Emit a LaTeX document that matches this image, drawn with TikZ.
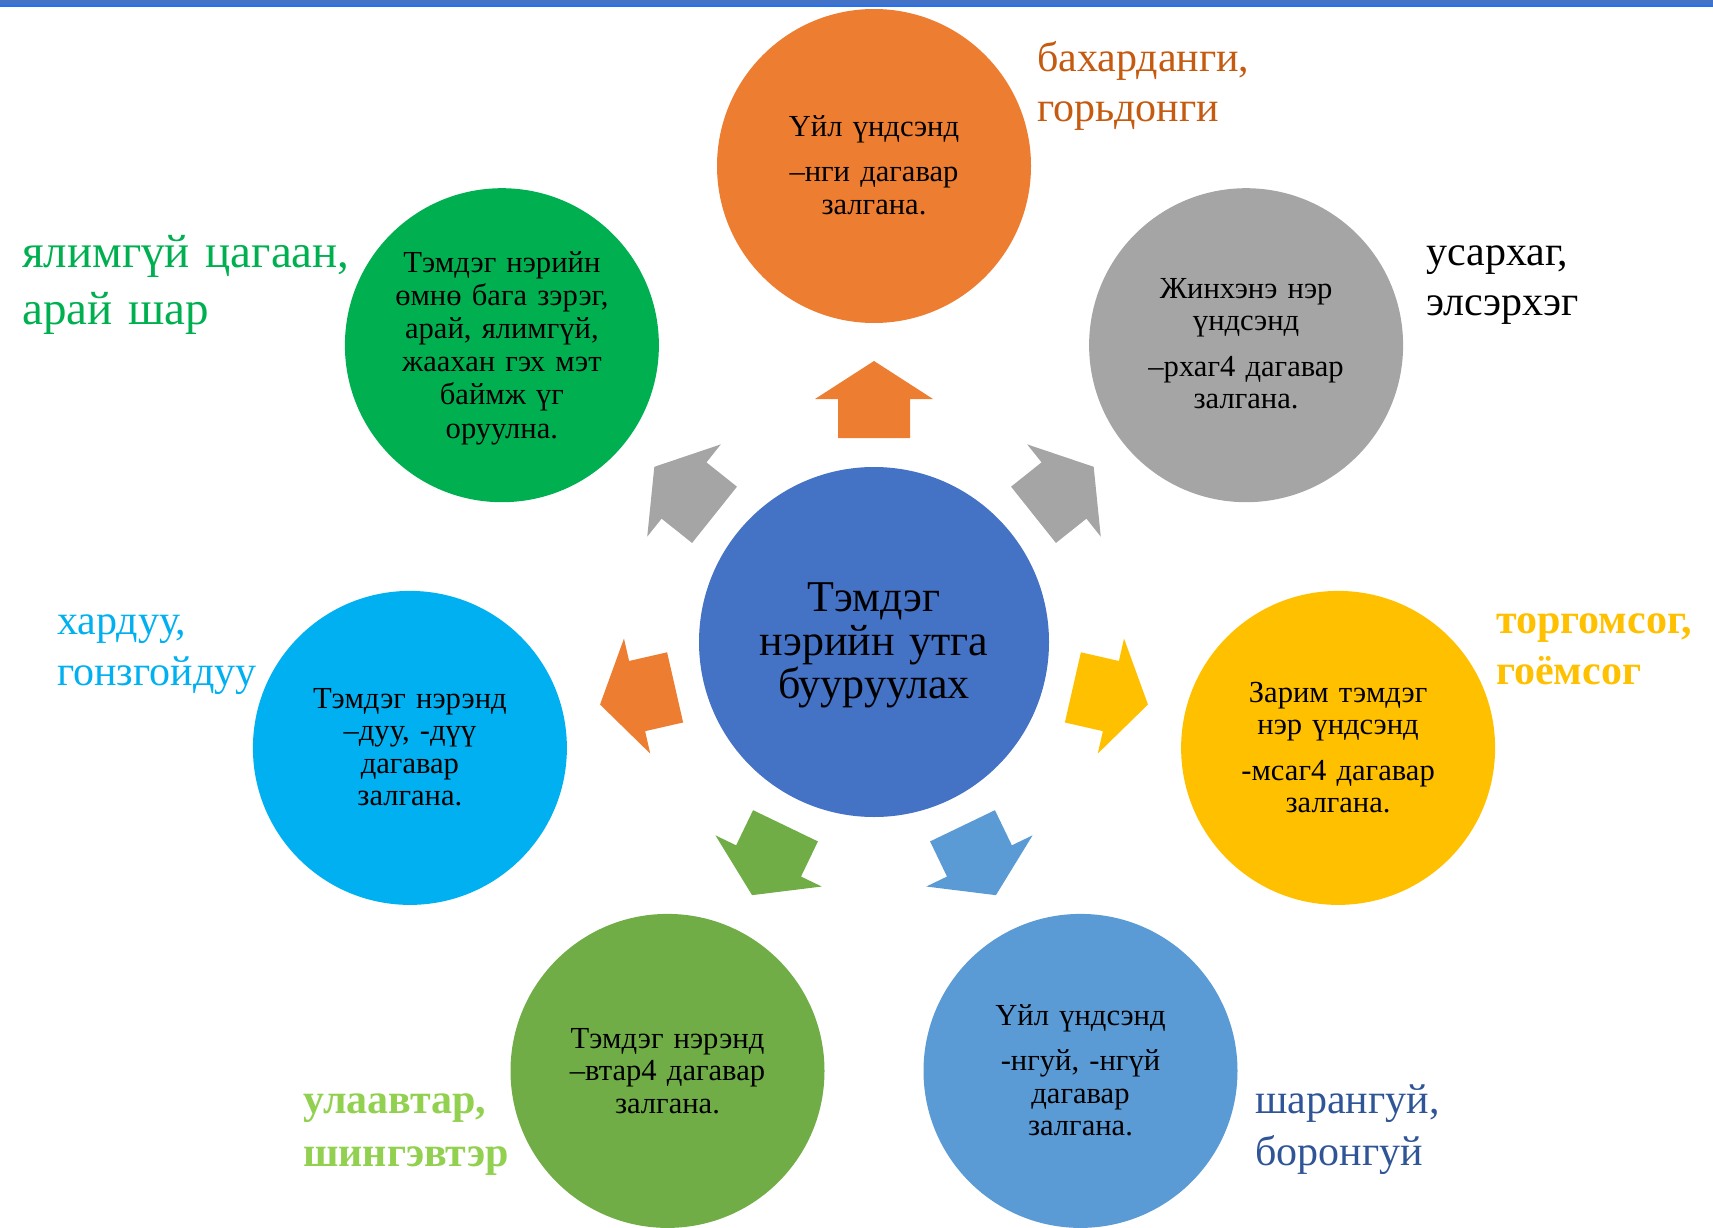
\documentclass[tikz,border=0pt]{standalone}
\usepackage{fontspec}
\setmainfont{Liberation Serif}
\usetikzlibrary{calc}
\definecolor{topblue}{HTML}{4472C4}
\definecolor{topline}{HTML}{2272F8}
\definecolor{cblue}{HTML}{4472C4}
\definecolor{corange}{HTML}{ED7D31}
\definecolor{cgray}{HTML}{A5A5A5}
\definecolor{cyellow}{HTML}{FFC000}
\definecolor{cltblue}{HTML}{5B9BD5}
\definecolor{cgreen}{HTML}{70AD47}
\definecolor{ccyan}{HTML}{00B0F0}
\definecolor{cdgreen}{HTML}{00B050}
\definecolor{lorange}{HTML}{C55A11}
\definecolor{llgreen}{HTML}{92D050}
\definecolor{ldblue}{HTML}{2F5597}
\newcommand\blockarrow[2]{%
  \fill[#2] ($(c)+(#1:204pt)+(#1+90:36pt)$) -- ($(c)+(#1:243pt)+(#1+90:36pt)$)
   -- ($(c)+(#1:243pt)+(#1+90:59pt)$) -- ($(c)+(#1:281pt)$)
   -- ($(c)+(#1:243pt)+(#1-90:59pt)$) -- ($(c)+(#1:243pt)+(#1-90:36pt)$)
   -- ($(c)+(#1:204pt)+(#1-90:36pt)$) -- cycle;}
\begin{document}
\begin{tikzpicture}[x=1pt,y=-1pt,
  bub/.style={circle, minimum size=314pt, inner sep=0pt},
  ctext/.style={text width=290pt, align=center, anchor=base, inner sep=0pt,
    font=\fontsize{30.6}{32.5}\selectfont},
  lbl/.style={text width=420pt, align=left, anchor=base west, inner sep=0pt,
    font=\fontsize{42}{50}\selectfont}]
\useasboundingbox (0,0) rectangle (1713,1228);
\fill[topblue] (0,0) rectangle (1713,5);
\fill[topline] (0,5) rectangle (1713,7.5);
% center
\node[circle, minimum size=350pt, inner sep=0pt, fill=cblue] (c) at (874,642) {};
% outer circles
\node[bub, fill=corange] (o0) at (874,166) {};
\node[bub, fill=cgray] (o1) at (1246.1,345.2) {};
\node[bub, fill=cyellow] (o2) at (1338.1,747.9) {};
\node[bub, fill=cltblue] (o3) at (1080.5,1070.9) {};
\node[bub, fill=cgreen] (o4) at (667.5,1070.9) {};
\node[bub, fill=ccyan] (o5) at (409.9,747.9) {};
\node[bub, fill=cdgreen] (o6) at (501.9,345.2) {};
% arrows
\blockarrow{90}{corange}
\blockarrow{38.571}{cgray}
\blockarrow{-12.857}{cyellow}
\blockarrow{-64.286}{cltblue}
\blockarrow{-115.714}{cgreen}
\blockarrow{-167.143}{corange}
\blockarrow{141.429}{cgray}
% center text
\node[ctext, text width=330pt, font=\fontsize{44}{43.3}\selectfont] (ct) at (874,611.7)
  {Тэмдэг\\нэрийн утга\\бууруулах};
% circle texts
\node[ctext] (t0) at (874,136) {Үйл үндсэнд\\[13pt]–нги дагавар\\залгана.};
\node[ctext] (t1) at (1246.1,298) {Жинхэнэ нэр\\үндсэнд\\[13pt]–рхаг4 дагавар\\залгана.};
\node[ctext] (t2) at (1338.1,702) {Зарим тэмдэг\\нэр үндсэнд\\[13pt]-мсаг4 дагавар\\залгана.};
\node[ctext] (t3) at (1080.5,1025) {Үйл үндсэнд\\[13pt]-нгуй, -нгүй\\дагавар\\залгана.};
\node[ctext] (t4) at (667.5,1048) {Тэмдэг нэрэнд\\–втар4 дагавар\\залгана.};
\node[ctext] (t5) at (409.9,708) {Тэмдэг нэрэнд\\–дуу, -дүү\\дагавар\\залгана.};
\node[ctext, font=\fontsize{30.6}{33.2}\selectfont] (t6) at (501.9,272)
  {Тэмдэг нэрийн\\өмнө бага зэрэг,\\арай, ялимгүй,\\жаахан гэх мэт\\баймж үг\\оруулна.};
% outer labels
\node[lbl, text=lorange] (l0) at (1037,72) {бахарданги,\\горьдонги};
\node[lbl] (l1) at (1426,265) {усархаг,\\элсэрхэг};
\node[lbl, text=cyellow, font=\bfseries\fontsize{42}{51}\selectfont] (l2) at (1496,633) {торгомсог,\\гоёмсог};
\node[lbl, text=ldblue, font=\fontsize{42}{52}\selectfont] (l3) at (1255,1113) {шарангуй,\\боронгуй};
\node[lbl, text=llgreen, font=\bfseries\fontsize{42}{53}\selectfont] (l4) at (303,1113) {улаавтар,\\шингэвтэр};
\node[lbl, text=ccyan, font=\fontsize{42}{51}\selectfont] (l5) at (57,634) {хардуу,\\гонзгойдуу};
\node[lbl, text=cdgreen, font=\fontsize{47}{57}\selectfont] (l6) at (22,267) {ялимгүй цагаан,\\арай шар};
\end{tikzpicture}
\end{document}
